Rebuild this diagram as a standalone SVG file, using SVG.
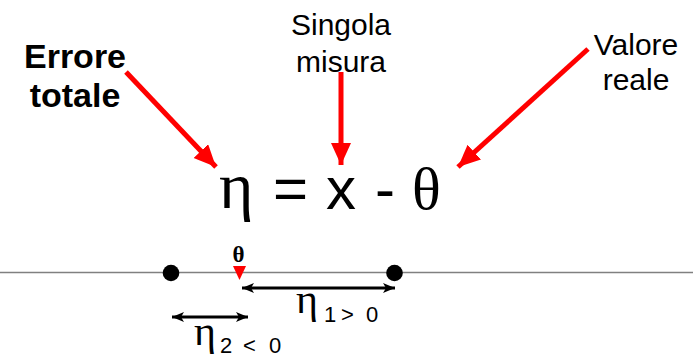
<svg xmlns="http://www.w3.org/2000/svg" width="693" height="357" viewBox="0 0 693 357">
<style>
.lbl{font-family:"Liberation Sans",Arial,sans-serif;font-size:30px;fill:#000;text-anchor:middle}
.bold{font-weight:bold;font-size:34px}
.greek{font-family:"Liberation Serif","Times New Roman",serif;fill:#000}
.sans{font-family:"Liberation Sans",Arial,sans-serif;fill:#000}
.sub{font-family:"Liberation Sans",Arial,sans-serif;fill:#000;font-size:22px}
.red{stroke:#FF0000;stroke-width:5;fill:none;marker-end:url(#rh)}
.blk{stroke:#000;stroke-width:3;fill:none;marker-start:url(#bh);marker-end:url(#bh)}
</style>
<defs>
<marker id="rh" markerUnits="userSpaceOnUse" markerWidth="24" markerHeight="22" refX="22" refY="10" orient="auto" viewBox="0 0 24 22">
<path d="M0,0 L22,10 L0,20 z" fill="#FF0000"/>
</marker>
<marker id="bh" markerUnits="userSpaceOnUse" markerWidth="14" markerHeight="12" refX="12" refY="6" orient="auto-start-reverse" viewBox="0 0 14 12">
<path d="M0,1 L12,6 L0,11 L3,6 z" fill="#000"/>
</marker>
</defs>
<g id="axis">
<line x1="0" y1="272.5" x2="693" y2="272.5" stroke="#808080" stroke-width="1.5"/>
</g>
<g id="label-errore">
<text class="lbl bold" x="75" y="68">Errore</text>
<text class="lbl bold" x="75" y="107">totale</text>
</g>
<g id="label-singola">
<text class="lbl" x="341" y="35">Singola</text>
<text class="lbl" x="341" y="72">misura</text>
</g>
<g id="label-valore">
<text class="lbl" x="636" y="55">Valore</text>
<text class="lbl" x="636" y="90">reale</text>
</g>
<g id="equation">
<text class="greek" x="219" y="208" font-size="66">η</text>
<text class="sans" x="273" y="209" font-size="60">=</text>
<text class="sans" x="326" y="209" font-size="60">x</text>
<text class="sans" x="375" y="209" font-size="60">-</text>
<text class="greek" x="412" y="209" font-size="60">θ</text>
</g>
<g id="point-left"><circle cx="171" cy="273" r="8.3" fill="#000"/></g>
<g id="point-right"><circle cx="394.5" cy="273" r="8.3" fill="#000"/></g>
<g id="theta-marker">
<polygon points="233,266 246,266 239.5,280" fill="#FF0000"/>
<text class="greek" x="238.5" y="262" font-size="23" font-weight="bold" text-anchor="middle">θ</text>
</g>
<g id="eta1-label">
<text class="greek" x="296" y="313" font-size="42">η</text>
<text class="sub" y="322"><tspan x="324">1</tspan><tspan x="341">&gt;</tspan><tspan x="366">0</tspan></text>
</g>
<g id="eta2-label">
<text class="greek" x="194" y="345" font-size="42">η</text>
<text class="sub" y="353"><tspan x="220">2</tspan><tspan x="243">&lt;</tspan><tspan x="269">0</tspan></text>
</g>
<g id="connectors">
<line class="red" x1="126" y1="72" x2="216" y2="167"/>
<line class="red" x1="341" y1="72" x2="341" y2="165"/>
<line class="red" x1="588" y1="49" x2="458" y2="167"/>
<line class="blk" x1="242" y1="288" x2="395" y2="288"/>
<line class="blk" x1="172" y1="317" x2="248" y2="317"/>
</g>
</svg>
